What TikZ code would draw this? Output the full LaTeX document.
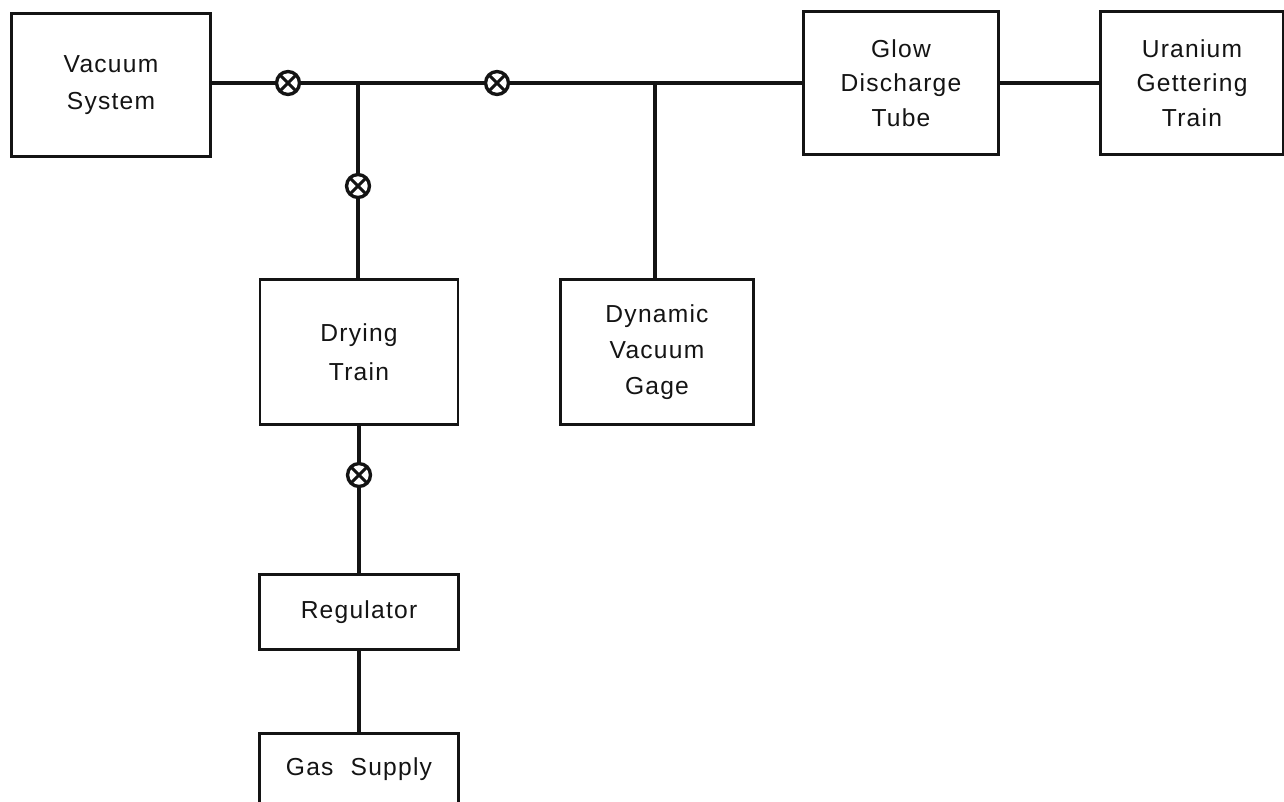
\documentclass[tikz,border=0pt]{standalone}
\usepackage{fontspec}
\usepackage{xcolor}
\setmainfont[LetterSpace=5]{Liberation Sans}
\definecolor{rink}{HTML}{141414}
\tikzset{
  unitbox/.style={draw=rink,line width=1.5pt,fill=white,inner sep=0pt,align=center,text=rink,
    font=\fontsize{14}{19.5}\selectfont},
  pipe/.style={draw=rink,line width=2pt},
  valve/.style={circle,draw=rink,line width=1.9pt,fill=white,minimum size=23*0.567pt,inner sep=0pt,
    path picture={\draw[rink,line width=1.7pt]
      (path picture bounding box.north west) -- (path picture bounding box.south east)
      (path picture bounding box.north east) -- (path picture bounding box.south west);}}
}
\begin{document}
\begin{tikzpicture}[x=0.02cm,y=-0.02cm]
  \useasboundingbox (0,0) rectangle (1284,801);

  % boxes on the main line
  \node[unitbox,minimum width=200*0.567pt,minimum height=144*0.567pt] (vacsys) at (111,85) {Vacuum\\[2pt]System};
  \node[unitbox,minimum width=196*0.567pt,minimum height=144*0.567pt] (glow) at (901,83) {Glow\\Discharge\\Tube};
  \node[unitbox,minimum width=184*0.567pt,minimum height=144*0.567pt] (uranium) at (1192,83) {Uranium\\Gettering\\Train};

  % boxes below
  \node[unitbox,minimum width=199*0.567pt,minimum height=145*0.567pt] (drying) at (359,352) {Drying\\[3pt]Train};
  \node[unitbox,minimum width=194*0.567pt,minimum height=146*0.567pt] (gage) at (657,352) {Dynamic\\[1pt]Vacuum\\[1pt]Gage};
  \node[unitbox,minimum width=200*0.567pt,minimum height=75*0.567pt] (regulator) at (359,612) {Regulator};
  \node[unitbox,minimum width=200*0.567pt,minimum height=72*0.567pt,anchor=north] (gas) at (359,732) {Gas\hspace{0.7em}Supply};

  % valves
  \node[valve] (v1) at (288,83) {};
  \node[valve] (v2) at (497,83) {};
  \node[valve] (v3) at (358,186) {};
  \node[valve] (v4) at (359,475) {};

  % junctions
  \coordinate (j1) at (358,83);
  \coordinate (j2) at (655,83);

  % main line
  \draw[pipe] (vacsys.east |- v1) -- (v1);
  \draw[pipe] (v1) -- (j1) -- (v2);
  \draw[pipe] (v2) -- (j2) -- (j2 -| glow.west);
  \draw[pipe] (glow) -- (uranium);

  % branches
  \draw[pipe] (j1) -- (v3);
  \draw[pipe] (v3) -- (v3 |- drying.north);
  \draw[pipe] (j2) -- (j2 |- gage.north);
  \draw[pipe] (v4 |- drying.south) -- (v4);
  \draw[pipe] (v4) -- (v4 |- regulator.north);
  \draw[pipe] (regulator) -- (gas);
\end{tikzpicture}
\end{document}
